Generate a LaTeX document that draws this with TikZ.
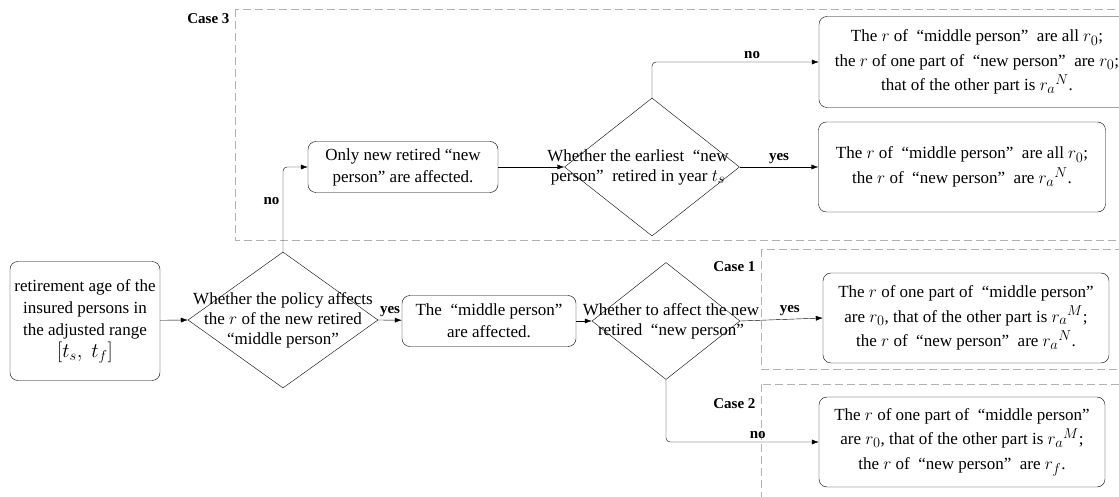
\documentclass[tikz,border=0pt]{standalone}
\usepackage{fontspec}
\setmainfont{Liberation Serif}
\usetikzlibrary{shapes.geometric,arrows.meta}
\newcommand{\mr}[1]{{\fontsize{19}{22}\selectfont$#1$}}

\begin{document}
\begin{tikzpicture}[x=1pt,y=-1pt,font=\fontsize{17}{22}\selectfont,
  box/.style={draw,rounded corners=8pt,align=center,inner sep=1pt},
  casebox/.style={box,font=\fontsize{17}{24.5}\selectfont},
  dec/.style={draw,diamond,inner sep=0pt},
  dtext/.style={align=center,font=\fontsize{17}{20}\selectfont},
  lbl/.style={font=\fontsize{15}{16}\selectfont\bfseries},
  region/.style={draw=gray!60,dash pattern=on 8pt off 4pt},
  >={Latex[length=7pt,width=5pt]}]
\useasboundingbox (0,0) rectangle (1119,497);
% case regions
\draw [region] (235,9) rectangle (1140,240);
\draw [region] (761,249) rectangle (1140,369);
\draw [region] (761,384) rectangle (1140,520);
\node [lbl,anchor=east] (case3) at (233,19) {Case 3};
\node [lbl,anchor=east] (case1) at (759,267) {Case 1};
\node [lbl,anchor=east] (case2) at (759,404) {Case 2};

\node [box,minimum width=150pt,minimum height=119pt] (range) at (85,321)
  {retirement age of the\\insured persons in\\the adjusted range\\{\fontsize{22}{26}\selectfont $[t_s,\ t_f]$}};
\node [dec,minimum width=190pt,minimum height=136pt] (policy) at (283,320) {};
\node [dtext] (policytxt) at (policy) {Whether the policy affects\\the $r$ of the new retired\\“middle person”};
\node [box,minimum width=174pt,minimum height=51pt] (middle) at (489,321)
  {The \ “middle person”\\are affected.};
\node [dec,minimum width=148pt,minimum height=117pt] (newq) at (666,321) {};
\node [dtext] (newqtxt) at ([xshift=5pt]newq) {Whether to affect the new\\retired \ “new person”};
\node [casebox,minimum width=286pt,minimum height=90pt] (caseone) at (966,318)
  {The \mr{r} of one part of \ “middle person”\\are \mr{r_0}, that of the other part is \mr{r_a{}^{M}};\\the \mr{r} of \ “new person” \ are \mr{r_a{}^{N}}.};
\node [casebox,minimum width=286pt,minimum height=90pt] (casetwo) at (962,442)
  {The \mr{r} of one part of \ “middle person”\\are \mr{r_0}, that of the other part is \mr{r_a{}^{M}};\\the \mr{r} of \ “new person” \ are \mr{r_f}.};

\node [box,minimum width=190pt,minimum height=51pt] (onlynew) at (403,167)
  {Only new retired “new\\person” are affected.};
\node [dec,minimum width=175pt,minimum height=138pt] (earliest) at (652,167) {};
\node [dtext] (earliesttxt) at ([xshift=-14pt]earliest) {Whether the earliest \ “new\\person” \ retired in year \mr{t_s}};
\node [casebox,minimum width=287pt,minimum height=90pt] (casethreeb) at (962,167)
  {The \mr{r} of \ “middle person” \ are all \mr{r_0};\\the \mr{r} of \ “new person” \ are \mr{r_a{}^{N}}.};
\node [casebox,minimum width=316pt,minimum height=91pt] (casethreea) at (977,62)
  {The \mr{r} of \ “middle person” \ are all \mr{r_0};\\the \mr{r} of one part of \ “new person” \ are \mr{r_0};\\that of the other part is \mr{r_a{}^{N}}.};

\draw [->] (range) -- (policy.west);
\draw [->] (policy.east) -- node [lbl,above] {yes} (middle);
\draw [->] (middle) -- (newq.west);
\draw [->] (newq.east) -- node [lbl,above,pos=0.6] {yes} (caseone.west);
\draw [->,rounded corners=4pt] (newq.south) |- node [lbl,above,pos=0.8] {no} (casetwo.west);
\draw [->,rounded corners=4pt] (policy.north) |- node [lbl,left,pos=0.3] {no} (onlynew.west);
\draw [->] (onlynew) -- (earliest.west);
\draw [->] (earliest.east) -- node [lbl,above] {yes} (casethreeb);
\draw [->,rounded corners=4pt] (earliest.north) |- node [lbl,above,pos=0.8] {no} (casethreea.west);
\end{tikzpicture}
\end{document}
